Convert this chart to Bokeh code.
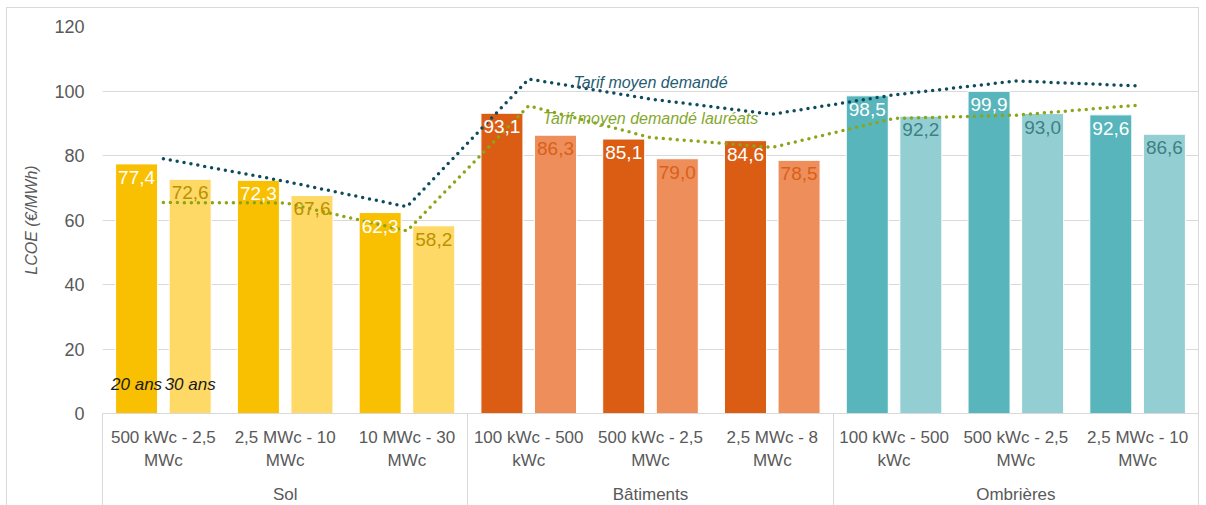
from bokeh.plotting import figure
from bokeh.models import ColumnDataSource, Range1d, FixedTicker, LinearAxis
from bokeh.core.properties import value
from bokeh.embed import file_html
from bokeh.resources import INLINE

# ---------------- data ----------------
groups = ["Sol", "Bâtiments", "Ombrières"]
categories = ["500 kWc - 2,5 MWc", "2,5 MWc - 10 MWc", "10 MWc - 30 MWc",
              "100 kWc - 500 kWc", "500 kWc - 2,5 MWc", "2,5 MWc - 8 MWc",
              "100 kWc - 500 kWc", "500 kWc - 2,5 MWc", "2,5 MWc - 10 MWc"]
category_group = ["Sol", "Sol", "Sol",
                  "Bâtiments", "Bâtiments", "Bâtiments",
                  "Ombrières", "Ombrières", "Ombrières"]
series_names = ["20 ans", "30 ans"]
lcoe_20 = [77.4, 72.3, 62.3, 93.1, 85.1, 84.6, 98.5, 99.9, 92.6]
lcoe_30 = [72.6, 67.6, 58.2, 86.3, 79.0, 78.5, 92.2, 93.0, 86.6]
line_names = ["Tarif moyen demandé", "Tarif moyen demandé lauréats"]
tarif_moyen = [79.0, 72.0, 64.1, 103.7, 97.5, 92.8, 98.8, 103.1, 101.6]
tarif_laureats = [65.4, 65.3, 56.6, 95.4, 85.6, 82.5, 91.5, 92.5, 95.6]
y_ticks = [0, 20, 40, 60, 80, 100, 120]

# ---------------- styles ----------------
FONT = "Liberation Sans"
GREY = "#595959"
GRID = "#D9D9D9"
col20 = {"Sol": "#F8C000", "Bâtiments": "#DA5D13", "Ombrières": "#57B5BB"}
col30 = {"Sol": "#FFD966", "Bâtiments": "#EE8E5A", "Ombrières": "#93CFD2"}
txt30 = {"Sol": "#B89200", "Bâtiments": "#D9601A", "Ombrières": "#3E8084"}
BLUE_LINE, BLUE_TXT = "#0E4C5D", "#1F5C72"
GREEN_LINE, GREEN_TXT = "#8AA616", "#84A82E"
OFF, BW = 0.22, 0.345

n = len(categories)
centers = [i + 0.5 for i in range(n)]
fmt = lambda v: f"{v:.1f}".replace(".", ",")

src = ColumnDataSource(dict(
    x20=[c - OFF for c in centers], x30=[c + OFF for c in centers],
    y20=lcoe_20, y30=lcoe_30,
    c20=[col20[g] for g in category_group], c30=[col30[g] for g in category_group],
    t30=[txt30[g] for g in category_group],
    l20=[fmt(v) for v in lcoe_20], l30=[fmt(v) for v in lcoe_30],
    xc=centers, tm=tarif_moyen, tl=tarif_laureats,
))

# figure sits inside a light grey chart border (6px left / 7px top inset)
p = figure(width=1193, height=498, output_backend="svg", toolbar_location=None,
           x_range=Range1d(0, n), y_range=Range1d(y_ticks[0], y_ticks[-1]),
           min_border_left=95, min_border_right=2, min_border_top=18, min_border_bottom=93,
           x_axis_type=None)
p.styles = {"margin-left": "6px", "margin-top": "7px",
            "border-left": "1px solid #D9D9D9", "border-top": "1px solid #D9D9D9",
            "border-right": "1px solid #D9D9D9"}
p.outline_line_color = None
p.background_fill_color = "white"
p.border_fill_color = "white"

# grid
p.ygrid.grid_line_color = GRID
p.ygrid.grid_line_width = 1
p.ygrid.ticker = FixedTicker(ticks=y_ticks)
p.xgrid.visible = False

# y axis
ya = p.yaxis[0]
ya.ticker = FixedTicker(ticks=y_ticks)
ya.axis_line_color = None
ya.major_tick_line_color = None
ya.minor_tick_line_color = None
ya.major_label_text_font = FONT
ya.major_label_text_font_size = "18px"
ya.major_label_text_color = GREY
ya.major_label_standoff = 12
ya.axis_label = "LCOE (€/MWh)"
ya.axis_label_text_font = FONT
ya.axis_label_text_font_size = "16px"
ya.axis_label_text_font_style = "italic"
ya.axis_label_text_color = GREY
ya.axis_label_standoff = 11

# x axis: subcategories (with group separators as long minor ticks)
SEP = 93
group_bounds = [0] + [i + 1 for i in range(n) if i == n - 1 or category_group[i] != category_group[i + 1]]
xa = LinearAxis(ticker=FixedTicker(ticks=centers, minor_ticks=group_bounds))
xa.major_label_overrides = {c: lab.rsplit(" ", 1)[0] + "\n" + lab.rsplit(" ", 1)[1]
                            for c, lab in zip(centers, categories)}
xa.axis_line_color = GRID
xa.major_tick_line_color = None
xa.major_tick_out = 0
xa.major_tick_in = 0
xa.minor_tick_line_color = GRID
xa.minor_tick_out = SEP
xa.minor_tick_in = 0
xa.major_label_text_font = FONT
xa.major_label_text_font_size = "17px"
xa.major_label_text_color = GREY
xa.major_label_text_line_height = 1.25
xa.major_label_standoff = 14 - SEP
p.add_layout(xa, "below")

# x axis: groups
gcent = [(group_bounds[k] + group_bounds[k + 1]) / 2 for k in range(len(groups))]
ga = LinearAxis(ticker=FixedTicker(ticks=gcent, minor_ticks=[]))
ga.major_label_overrides = {c: g for c, g in zip(gcent, groups)}
ga.axis_line_color = None
ga.major_tick_line_color = None
ga.major_tick_out = 0
ga.major_tick_in = 0
ga.minor_tick_line_color = None
ga.major_label_text_font = FONT
ga.major_label_text_font_size = "17px"
ga.major_label_text_color = GREY
ga.major_label_standoff = 11
p.add_layout(ga, "below")

# bars
p.vbar(x="x20", top="y20", width=BW, fill_color="c20", line_color="white", line_width=1, source=src)
p.vbar(x="x30", top="y30", width=BW, fill_color="c30", line_color="white", line_width=1, source=src)

# lines (round dots)
p.line(x="xc", y="tm", source=src, line_color=BLUE_LINE, line_width=3.5,
       line_dash="0 7", line_cap="round")
p.line(x="xc", y="tl", source=src, line_color=GREEN_LINE, line_width=3.5,
       line_dash="0 7", line_cap="round")

# bar labels
p.text(x="x20", y="y20", text="l20", source=src, text_color="white",
       text_font=value(FONT), text_font_size="19px", text_align="center",
       text_baseline="top", y_offset=7)
p.text(x="x30", y="y30", text="l30", source=src, text_color="t30",
       text_font=value(FONT), text_font_size="19px", text_align="center",
       text_baseline="top", y_offset=7)

# series names (legend placed at first category bars)
p.text(x=[centers[0] - OFF, centers[0] + OFF], y=[y_ticks[0], y_ticks[0]], text=series_names,
       text_color="#1A1A1A", text_font=value(FONT), text_font_size="17px",
       text_font_style="italic", text_align="center", text_baseline="middle", y_offset=-29)

# line names (placed above lines at 5th category)
k = 4
p.text(x=[centers[k]], y=[tarif_moyen[k]], text=[line_names[0]], text_color=BLUE_TXT,
       text_font=value(FONT), text_font_size="16px", text_font_style="italic",
       text_align="center", text_baseline="middle", y_offset=-17)
p.text(x=[centers[k]], y=[tarif_laureats[k]], text=[line_names[1]], text_color=GREEN_TXT,
       text_font=value(FONT), text_font_size="16px", text_font_style="italic",
       text_align="center", text_baseline="middle", y_offset=-19)

open("out.html", "w").write(file_html(p, INLINE))
